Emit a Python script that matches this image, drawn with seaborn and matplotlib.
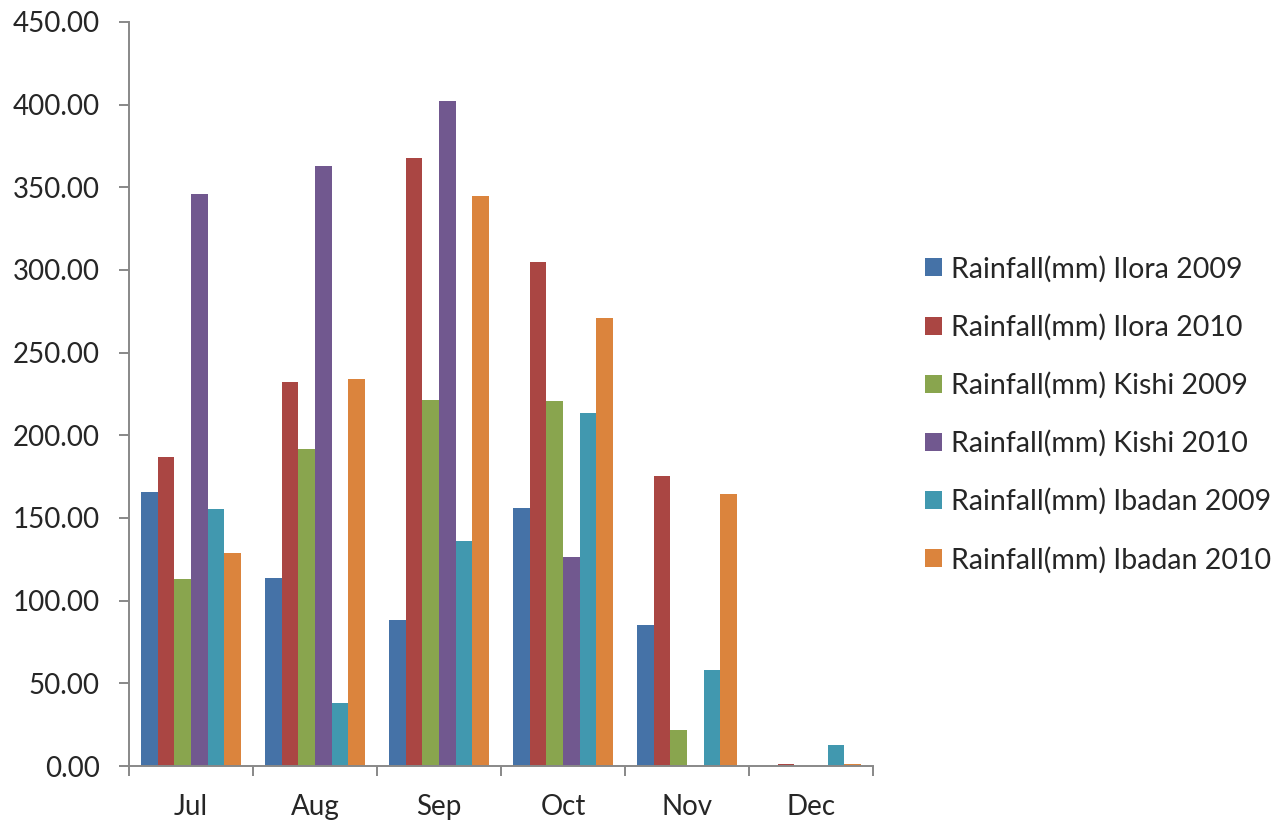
import pandas as pd
import matplotlib
matplotlib.use("Agg")
import matplotlib.pyplot as plt
from matplotlib.ticker import FixedLocator, FormatStrFormatter
import seaborn as sns

months = ["Jul", "Aug", "Sep", "Oct", "Nov", "Dec"]
series_names = ["Rainfall(mm) Ilora 2009", "Rainfall(mm) Ilora 2010",
                "Rainfall(mm) Kishi 2009", "Rainfall(mm) Kishi 2010",
                "Rainfall(mm) Ibadan 2009", "Rainfall(mm) Ibadan 2010"]
ilora_2009 = [165.5, 114.0, 88.5, 156.0, 85.0, 0.0]
ilora_2010 = [187.0, 232.0, 368.0, 305.0, 175.5, 1.5]
kishi_2009 = [113.0, 191.5, 221.5, 221.0, 22.0, 0.0]
kishi_2010 = [346.0, 363.0, 402.0, 126.5, 0.0, 0.0]
ibadan_2009 = [155.5, 38.0, 136.0, 213.5, 58.0, 12.5]
ibadan_2010 = [129.0, 234.0, 345.0, 271.0, 164.5, 1.0]
colors = ["#4572A7", "#AA4643", "#89A54E", "#71588F", "#4198AF", "#DB843D"]

all_vals = [ilora_2009, ilora_2010, kishi_2009, kishi_2010, ibadan_2009, ibadan_2010]
rows = []
for name, vals in zip(series_names, all_vals):
    for m, v in zip(months, vals):
        rows.append({"Month": m, "Series": name, "Rainfall": v})
df = pd.DataFrame(rows)

sns.set_style("white")
plt.rcParams["font.family"] = ["Lato", "DejaVu Sans"]

fig = plt.figure(figsize=(12.84, 8.22), dpi=100)
ax = fig.add_axes([129/1284, 1-766/822, 744/1284, 744/822])

sns.barplot(data=df, x="Month", y="Rainfall", hue="Series", order=months,
            hue_order=series_names, palette=colors, width=0.8,
            saturation=1, edgecolor="none", ax=ax)

ax.set_ylim(0, 450)
ax.set_xlim(-0.5, 5.5)
ax.set_yticks(range(0, 451, 50))
ax.yaxis.set_major_formatter(FormatStrFormatter("%.2f"))
ax.set_xlabel("")
ax.set_ylabel("")

for s in ["top", "right"]:
    ax.spines[s].set_visible(False)
for s in ["left", "bottom"]:
    ax.spines[s].set_color("#888888")
    ax.spines[s].set_linewidth(1.4)

ax.tick_params(axis="y", which="major", direction="out", length=7, width=1.4,
               color="#888888", labelsize=20, pad=14, left=True)
ax.tick_params(axis="x", which="major", length=0, labelsize=20, pad=20)
ax.xaxis.set_minor_locator(FixedLocator([i - 0.5 for i in range(7)]))
ax.tick_params(axis="x", which="minor", direction="out", length=7, width=1.4,
               color="#888888", bottom=True)

handles, labels = ax.get_legend_handles_labels()
ax.legend(handles, labels, loc="center left",
          bbox_to_anchor=(925/1284, 1-414.5/822), bbox_transform=fig.transFigure,
          frameon=False, fontsize=20.5, handlelength=0.6, handleheight=0.6,
          handletextpad=0.3, labelspacing=1.1, borderpad=0, borderaxespad=0)

fig.savefig("out.png", dpi=100)
